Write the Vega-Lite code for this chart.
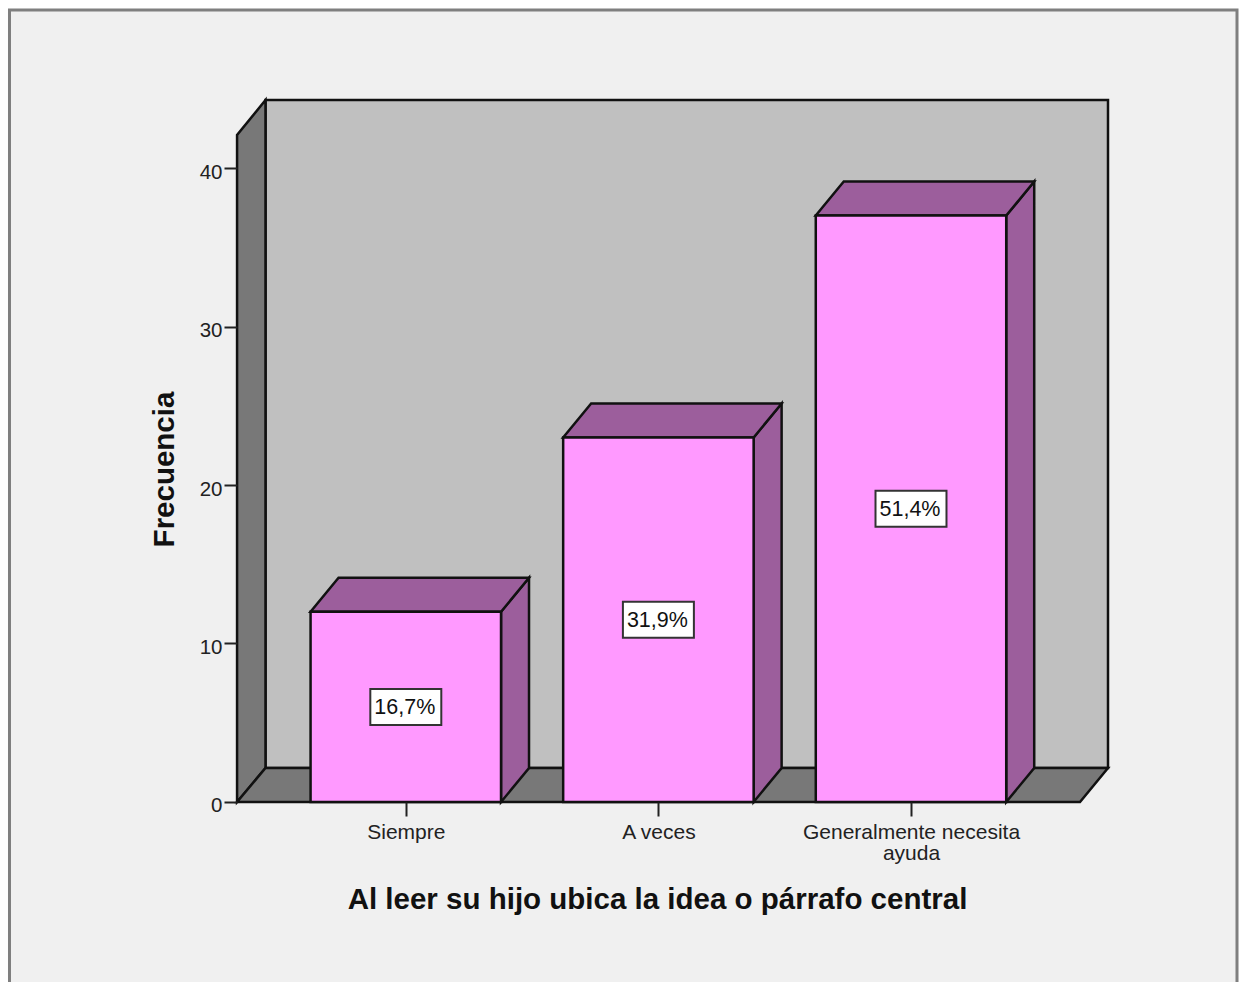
{
"$schema":"https://vega.github.io/schema/vega-lite/v6.json",
"width":1239,"height":982,"padding":0,"autosize":{"type":"none"},"background":"#ffffff",
"datasets":{"barras":[
{"categoria":"Siempre","orden":0,"frecuencia":12,"porcentaje":"16,7%"},
{"categoria":"A veces","orden":1,"frecuencia":23,"porcentaje":"31,9%"},
{"categoria":"Generalmente necesita ayuda","orden":2,"frecuencia":37,"porcentaje":"51,4%"}]},
"config":{"view":{"stroke":null},"font":"Liberation Sans"},
"layer":[
{"data":{"values":[{"panel":"marco"}]},
 "mark":{"type":"rect","fill":"#f0f0f0","stroke":"#7f7f7f","strokeWidth":3,"clip":true},
 "encoding":{
  "x":{"datum":-1.5689,"type":"quantitative","scale":{"domain":[-1.6065,3.2985],"nice":false,"zero":false},
   "axis":{"orient":"bottom","offset":-180,"zindex":1,"values":[0,1,2],"domain":false,"grid":false,"tickSize":14,"tickWidth":2,"tickColor":"#222222","labelPadding":5,"labelFontSize":21,"labelFont":"Liberation Sans","labelColor":"#222222","labelLineHeight":21,"labelLimit":500,"labelFlush":false,"labelOverlap":false,"labelBound":false,"labelBaseline":"top",
    "labelExpr":"datum.value==0?'Siempre':datum.value==1?'A veces':['Generalmente necesita','ayuda']",
    "title":"Al leer su hijo ubica la idea o párrafo central","titleFont":"Liberation Sans","titleFontSize":29.5,"titleFontWeight":"bold","titleColor":"#111111","titleX":657,"titleY":106,"titleAlign":"center","titleBaseline":"alphabetic"}},
  "x2":{"datum":3.2906},
  "y":{"datum":49.97,"type":"quantitative","scale":{"domain":[-11.357,50.6],"nice":false,"zero":false},
   "axis":{"orient":"left","offset":-237,"zindex":1,"values":[0,10,20,30,40],"format":"d","domain":false,"grid":false,"tickSize":13,"tickWidth":2,"tickColor":"#222222","labelPadding":2,"labelOffset":4,"labelFontSize":20.5,"labelFont":"Liberation Sans","labelColor":"#222222","labelFlush":false,"labelOverlap":false,"labelBound":false,
    "title":"Frecuencia","titleFont":"Liberation Sans","titleFontSize":29.5,"titleFontWeight":"bold","titleColor":"#111111","titleX":-64,"titleY":469,"titleAngle":-90,"titleAlign":"center","titleBaseline":"alphabetic"}},
  "y2":{"datum":-12}}},
{"data":{"values":[{"panel":"fondo"}]},
 "mark":{"type":"rect","fill":"#c0c0c0","stroke":"#111111","strokeWidth":2.5},
 "encoding":{"x":{"datum":-0.5554,"type":"quantitative"},"x2":{"datum":2.7799},"y":{"datum":44.29,"type":"quantitative"},"y2":{"datum":2.145}}},
{"data":{"values":[{"px":-0.668,"ylo":0,"yhi":42.08},{"px":-0.5554,"ylo":2.145,"yhi":44.29}]},
 "mark":{"type":"area","orient":"vertical","fill":"#787878","stroke":"#111111","strokeWidth":2.5,"opacity":1},
 "encoding":{"x":{"field":"px","type":"quantitative"},"y":{"field":"ylo","type":"quantitative"},"y2":{"field":"yhi"}}},
{"data":{"values":[{"px":-0.668,"ylo":0,"yhi":0},{"px":-0.5554,"ylo":0,"yhi":2.145},{"px":2.669,"ylo":0,"yhi":2.145},{"px":2.7799,"ylo":2.145,"yhi":2.145}]},
 "mark":{"type":"area","orient":"vertical","fill":"#787878","stroke":"#111111","strokeWidth":2.5,"opacity":1},
 "encoding":{"x":{"field":"px","type":"quantitative"},"y":{"field":"ylo","type":"quantitative"},"y2":{"field":"yhi"}}},
{"data":{"name":"barras"},
 "transform":[
  {"calculate":"[datum.orden+0.377,datum.orden+0.4878]","as":"px"},
  {"calculate":"[0,2.145]","as":"ylo"},
  {"calculate":"[datum.frecuencia,datum.frecuencia+2.145]","as":"yhi"},
  {"flatten":["px","ylo","yhi"]}],
 "mark":{"type":"area","orient":"vertical","fill":"#9c5e9c","stroke":"#111111","strokeWidth":2.5,"opacity":1},
 "encoding":{"x":{"field":"px","type":"quantitative"},"y":{"field":"ylo","type":"quantitative"},"y2":{"field":"yhi"},"detail":{"field":"categoria"}}},
{"data":{"name":"barras"},
 "transform":[
  {"calculate":"[datum.orden-0.377,datum.orden-0.2662,datum.orden+0.377,datum.orden+0.4878]","as":"px"},
  {"calculate":"[datum.frecuencia,datum.frecuencia,datum.frecuencia,datum.frecuencia+2.145]","as":"ylo"},
  {"calculate":"[datum.frecuencia,datum.frecuencia+2.145,datum.frecuencia+2.145,datum.frecuencia+2.145]","as":"yhi"},
  {"flatten":["px","ylo","yhi"]}],
 "mark":{"type":"area","orient":"vertical","fill":"#9c5e9c","stroke":"#111111","strokeWidth":2.5,"opacity":1},
 "encoding":{"x":{"field":"px","type":"quantitative"},"y":{"field":"ylo","type":"quantitative"},"y2":{"field":"yhi"},"detail":{"field":"categoria"}}},
{"data":{"name":"barras"},
 "transform":[{"calculate":"datum.orden-0.377","as":"x0"},{"calculate":"datum.orden+0.377","as":"x1"}],
 "mark":{"type":"rect","fill":"#ff99ff","stroke":"#111111","strokeWidth":2.5},
 "encoding":{"x":{"field":"x0","type":"quantitative"},"x2":{"field":"x1"},"y":{"field":"frecuencia","type":"quantitative"},"y2":{"datum":0}}},
{"data":{"name":"barras"},
 "transform":[{"calculate":"datum.orden-0.1405","as":"x0"},{"calculate":"datum.orden+0.1405","as":"x1"},{"calculate":"datum.frecuencia/2-1.136","as":"y0"},{"calculate":"datum.frecuencia/2+1.136","as":"y1"}],
 "mark":{"type":"rect","fill":"#ffffff","stroke":"#333333","strokeWidth":2},
 "encoding":{"x":{"field":"x0","type":"quantitative"},"x2":{"field":"x1"},"y":{"field":"y0","type":"quantitative"},"y2":{"field":"y1"}}},
{"data":{"name":"barras"},
 "transform":[{"calculate":"datum.frecuencia/2","as":"medio"}],
 "mark":{"type":"text","font":"Liberation Sans","fontSize":21.5,"fill":"#111111","align":"center","baseline":"middle","dx":-1,"dy":1},
 "encoding":{"x":{"field":"orden","type":"quantitative"},"y":{"field":"medio","type":"quantitative"},"text":{"field":"porcentaje"}}}
]}
